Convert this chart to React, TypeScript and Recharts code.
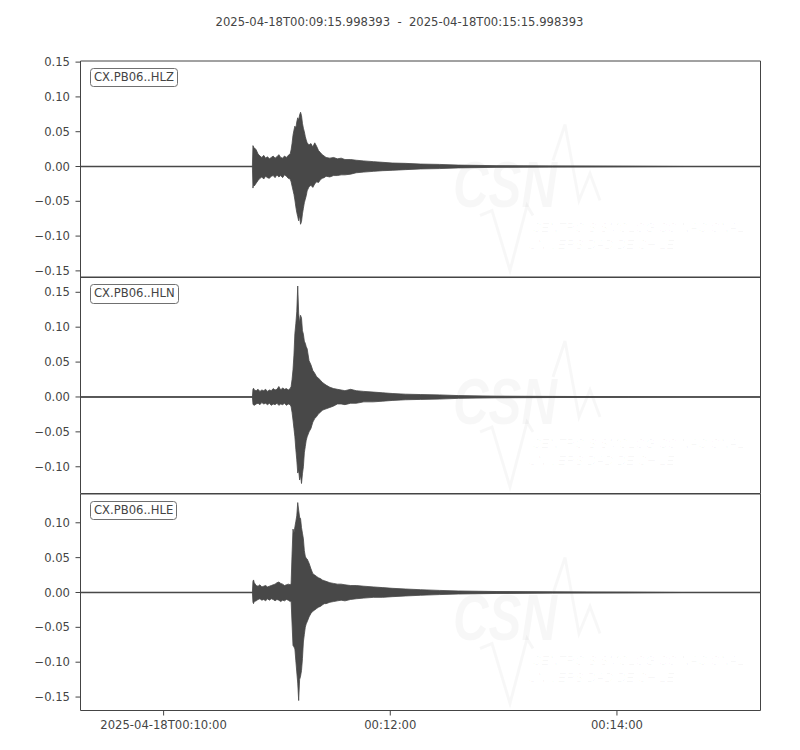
import React from 'react';
import { ComposedChart, Area, XAxis, YAxis, ReferenceLine, ReferenceArea } from 'recharts';

// seconds after 2025-04-18T00:09:15.998393
const timeSec = [
  0, 91.0, 91.3, 91.6, 92, 93, 94, 95, 96, 97, 98, 99, 100, 101, 102, 103, 104, 105, 106, 107, 108, 109, 110, 111,
  111.5, 112, 112.5, 113, 113.5, 114, 114.5, 115, 115.5, 116, 116.5, 117, 117.5, 118, 118.5, 119, 119.5, 120,
  121, 122, 123, 124, 125, 126, 127, 128, 129, 130, 132, 134, 136, 138, 140, 143, 146, 150, 155, 160, 165, 172,
  180, 190, 200, 220, 250, 290, 320, 360,
];

const hlzHi = [
  0, 0, 0.030, 0.028, 0.027, 0.024, 0.018, 0.015, 0.013, 0.016, 0.012, 0.014, 0.011, 0.013, 0.015, 0.012, 0.014, 0.017, 0.013, 0.012, 0.015, 0.013, 0.016, 0.018,
  0.024, 0.033, 0.045, 0.052, 0.058, 0.055, 0.064, 0.070, 0.067, 0.074, 0.078, 0.073, 0.062, 0.055, 0.050, 0.043, 0.038, 0.034,
  0.031, 0.033, 0.028, 0.034, 0.029, 0.023, 0.020, 0.017, 0.015, 0.013, 0.012, 0.013, 0.011, 0.012, 0.010, 0.010, 0.009, 0.008, 0.007, 0.006, 0.005, 0.0045,
  0.0035, 0.003, 0.002, 0.0012, 0.0008, 0.0004, 0, 0,
];
const hlzLo = [
  0, 0, -0.031, -0.026, -0.028, -0.024, -0.020, -0.017, -0.015, -0.018, -0.014, -0.016, -0.017, -0.014, -0.013, -0.016, -0.012, -0.015, -0.013, -0.016, -0.012, -0.014, -0.017, -0.018,
  -0.022, -0.028, -0.034, -0.040, -0.048, -0.058, -0.066, -0.072, -0.078, -0.070, -0.083, -0.079, -0.068, -0.060, -0.052, -0.047, -0.042, -0.035,
  -0.029, -0.027, -0.030, -0.025, -0.022, -0.023, -0.019, -0.017, -0.016, -0.014, -0.015, -0.013, -0.013, -0.012, -0.012, -0.011, -0.009, -0.008, -0.007, -0.006, -0.0055, -0.0045,
  -0.0035, -0.003, -0.002, -0.0012, -0.0008, -0.0004, 0, 0,
];

const hlnHi = [
  0, 0, 0.011, 0.0125, 0.010, 0.009, 0.011, 0.008, 0.010, 0.009, 0.011, 0.008, 0.010, 0.009, 0.012, 0.010, 0.011, 0.015, 0.010, 0.013, 0.011, 0.012, 0.010, 0.012,
  0.015, 0.025, 0.039, 0.060, 0.091, 0.105, 0.122, 0.159, 0.120, 0.106, 0.117, 0.113, 0.095, 0.090, 0.080, 0.077, 0.072, 0.069,
  0.052, 0.046, 0.038, 0.034, 0.029, 0.027, 0.024, 0.021, 0.019, 0.017, 0.014, 0.012, 0.011, 0.010, 0.009, 0.011, 0.009, 0.008, 0.007, 0.006, 0.005, 0.004,
  0.0035, 0.003, 0.002, 0.0012, 0.0008, 0.0004, 0, 0,
];
const hlnLo = [
  0, 0, -0.010, -0.0115, -0.012, -0.010, -0.009, -0.011, -0.008, -0.010, -0.009, -0.011, -0.009, -0.012, -0.010, -0.011, -0.009, -0.012, -0.010, -0.011, -0.009, -0.012, -0.010, -0.011,
  -0.014, -0.022, -0.033, -0.045, -0.057, -0.075, -0.090, -0.109, -0.105, -0.119, -0.112, -0.124, -0.110, -0.100, -0.080, -0.071, -0.062, -0.057,
  -0.050, -0.045, -0.036, -0.031, -0.028, -0.024, -0.022, -0.019, -0.018, -0.017, -0.015, -0.013, -0.010, -0.010, -0.011, -0.009, -0.009, -0.007, -0.007, -0.006, -0.005, -0.004,
  -0.0035, -0.003, -0.002, -0.0012, -0.0008, -0.0004, 0, 0,
];

const hleHi = [
  0, 0, 0.016, 0.018, 0.014, 0.010, 0.009, 0.011, 0.008, 0.009, 0.010, 0.008, 0.009, 0.010, 0.011, 0.012, 0.014, 0.015, 0.013, 0.012, 0.010, 0.011, 0.012, 0.011,
  0.013, 0.055, 0.091, 0.085, 0.094, 0.102, 0.110, 0.129, 0.118, 0.108, 0.106, 0.093, 0.085, 0.077, 0.060, 0.052, 0.049, 0.048,
  0.042, 0.034, 0.027, 0.025, 0.023, 0.021, 0.020, 0.018, 0.017, 0.016, 0.014, 0.013, 0.012, 0.012, 0.011, 0.010, 0.010, 0.009, 0.008, 0.007, 0.006, 0.005,
  0.004, 0.003, 0.0022, 0.0014, 0.0009, 0.0005, 0, 0,
];
const hleLo = [
  0, 0, -0.014, -0.016, -0.013, -0.012, -0.010, -0.009, -0.011, -0.010, -0.012, -0.009, -0.011, -0.009, -0.010, -0.012, -0.010, -0.011, -0.013, -0.011, -0.012, -0.010, -0.011, -0.013,
  -0.012, -0.045, -0.076, -0.078, -0.081, -0.098, -0.114, -0.130, -0.155, -0.125, -0.120, -0.112, -0.095, -0.071, -0.060, -0.050, -0.045, -0.042,
  -0.035, -0.030, -0.027, -0.025, -0.023, -0.021, -0.020, -0.018, -0.016, -0.016, -0.014, -0.013, -0.012, -0.011, -0.012, -0.010, -0.009, -0.008, -0.007, -0.007, -0.006, -0.005,
  -0.004, -0.003, -0.0022, -0.0014, -0.0009, -0.0005, 0, 0,
];

const channelNames = ['CX.PB06..HLZ', 'CX.PB06..HLN', 'CX.PB06..HLE'];
const yDomains = [
  [-0.1595, 0.1516],
  [-0.1383, 0.1719],
  [-0.1693, 0.1413],
];
const yTicks = [
  [-0.15, -0.1, -0.05, 0, 0.05, 0.1, 0.15],
  [-0.1, -0.05, 0, 0.05, 0.1, 0.15],
  [-0.15, -0.1, -0.05, 0, 0.05, 0.1],
];
const xTickSeconds = [44.0016, 164.0016, 284.0016];
const xTickLabels = ['2025-04-18T00:10:00', '00:12:00', '00:14:00'];
const titleText = '2025-04-18T00:09:15.998393  -  2025-04-18T00:15:15.998393';

const channelHi = [hlzHi, hlnHi, hleHi];
const channelLo = [hlzLo, hlnLo, hleLo];

const TRACE = '#484848';
const AXIS = '#444444';
const TEXT = '#444444';
const FONT = 'DejaVu Sans, sans-serif';
const FS = 11.6;

const PLOT_LEFT = 80.5;
const PLOT_RIGHT = 760.5;
const panelTops = [60.5, 277, 493.5];
const panelBottoms = [277, 493.5, 710];
const PAD = 12;

const fmtY = (v: number) => (v < 0 ? '\u2212' : '') + Math.abs(v).toFixed(2);
const fmtX = (v: number) => {
  const i = xTickSeconds.findIndex((s) => Math.abs(s - v) < 0.01);
  return i >= 0 ? xTickLabels[i] : '';
};

function Panel({ idx }: { idx: number }) {
  const top = panelTops[idx];
  const h = panelBottoms[idx] - top;
  const last = idx === 2;
  const data = timeSec.map((t, i) => ({ t, range: [channelLo[idx][i], channelHi[idx][i]] }));
  const dom = yDomains[idx];
  const xh = last ? 30 : 0;
  const height = PAD + h + xh + PAD;
  return (
    <div style={{ position: 'absolute', left: 0, top: top - PAD, width: 800, height }}>
      <ComposedChart
        width={800}
        height={height}
        data={data}
        margin={{ top: PAD, bottom: PAD, left: 0, right: 800 - PLOT_RIGHT }}
      >
        <XAxis
          type="number"
          dataKey="t"
          domain={[0, 360]}
          allowDataOverflow
          ticks={xTickSeconds}
          interval={0}
          tickFormatter={fmtX}
          hide={!last}
          height={xh}
          axisLine={false}
          tickLine={{ stroke: AXIS }}
          tickSize={5}
          tickMargin={5}
          tick={{ fill: TEXT, fontSize: FS, fontFamily: FONT }}
        />
        <YAxis
          type="number"
          domain={dom}
          allowDataOverflow
          ticks={yTicks[idx]}
          interval={0}
          tickFormatter={fmtY}
          width={PLOT_LEFT}
          axisLine={false}
          tickLine={{ stroke: AXIS }}
          tickSize={5}
          tickMargin={5.5}
          tick={{ fill: TEXT, fontSize: FS, fontFamily: FONT }}
        />
        <ReferenceLine y={0} stroke={TRACE} strokeWidth={1.4} ifOverflow="visible" />
        <Area
          type="linear"
          dataKey="range"
          stroke={TRACE}
          strokeWidth={0.8}
          fill={TRACE}
          fillOpacity={1}
          dot={false}
          activeDot={false}
          isAnimationActive={false}
        />
        <ReferenceArea
          x1={0}
          x2={360}
          y1={dom[0]}
          y2={dom[1]}
          fill="none"
          fillOpacity={0}
          stroke={AXIS}
          strokeWidth={1}
          ifOverflow="visible"
        />
      </ComposedChart>
    </div>
  );
}

function Watermark({ top }: { top: number }) {
  const c = 'rgba(0,0,0,0.03)';
  return (
    <g>
      <text
        x={453}
        y={top + 146.5}
        fontSize={64}
        fontStyle="italic"
        fontWeight="bold"
        fontFamily="Liberation Sans, sans-serif"
        textLength={104}
        lengthAdjust="spacingAndGlyphs"
        fill={c}
      >
        CSN
      </text>
      <polyline
        points={`480,${top + 155} 492,${top + 150} 510,${top + 210} 527,${top + 145} 533,${top + 155}`}
        fill="none"
        stroke={c}
        strokeWidth={3}
      />
      <polyline
        points={`553,${top + 100} 565,${top + 64} 579,${top + 140} 590,${top + 113} 600,${top + 140}`}
        fill="none"
        stroke={c}
        strokeWidth={3}
      />
      <text
        x={532}
        y={top + 171}
        fontSize={12.5}
        fontStyle="italic"
        fontFamily="Liberation Sans, sans-serif"
        fill={c}
      >
        CENTRO SISMOLÓGICO NACIONAL
      </text>
      <text
        x={528}
        y={top + 188}
        fontSize={12.5}
        fontStyle="italic"
        fontFamily="Liberation Sans, sans-serif"
        fill={c}
      >
        UNIVERSIDAD DE CHILE
      </text>
    </g>
  );
}

export default function App() {
  return (
    <div style={{ position: 'absolute', left: 0, top: 0, width: 800, height: 750, background: '#fff', overflow: 'hidden' }}>
      <svg width={800} height={750} style={{ position: 'absolute', left: 0, top: 0 }}>
        {panelTops.map((t, i) => (
          <Watermark key={i} top={t} />
        ))}
      </svg>
      <div
        style={{
          position: 'absolute',
          left: 0,
          top: 15,
          width: 799,
          textAlign: 'center',
          whiteSpace: 'pre',
          fontFamily: FONT,
          fontSize: FS,
          lineHeight: '14px',
          color: TEXT,
        }}
      >
        {titleText}
      </div>
      {[0, 1, 2].map((i) => (
        <Panel key={i} idx={i} />
      ))}
      {channelNames.map((name, i) => (
        <div
          key={name}
          style={{
            position: 'absolute',
            left: 90,
            top: panelTops[i] + 7.3,
            height: 19.6,
            boxSizing: 'border-box',
            padding: '0 3px',
            border: '1.2px solid #707070',
            borderRadius: 3.5,
            background: '#fff',
            fontFamily: FONT,
            fontSize: FS,
            lineHeight: '17.2px',
            color: TEXT,
            whiteSpace: 'pre',
          }}
        >
          {name}
        </div>
      ))}
    </div>
  );
}
